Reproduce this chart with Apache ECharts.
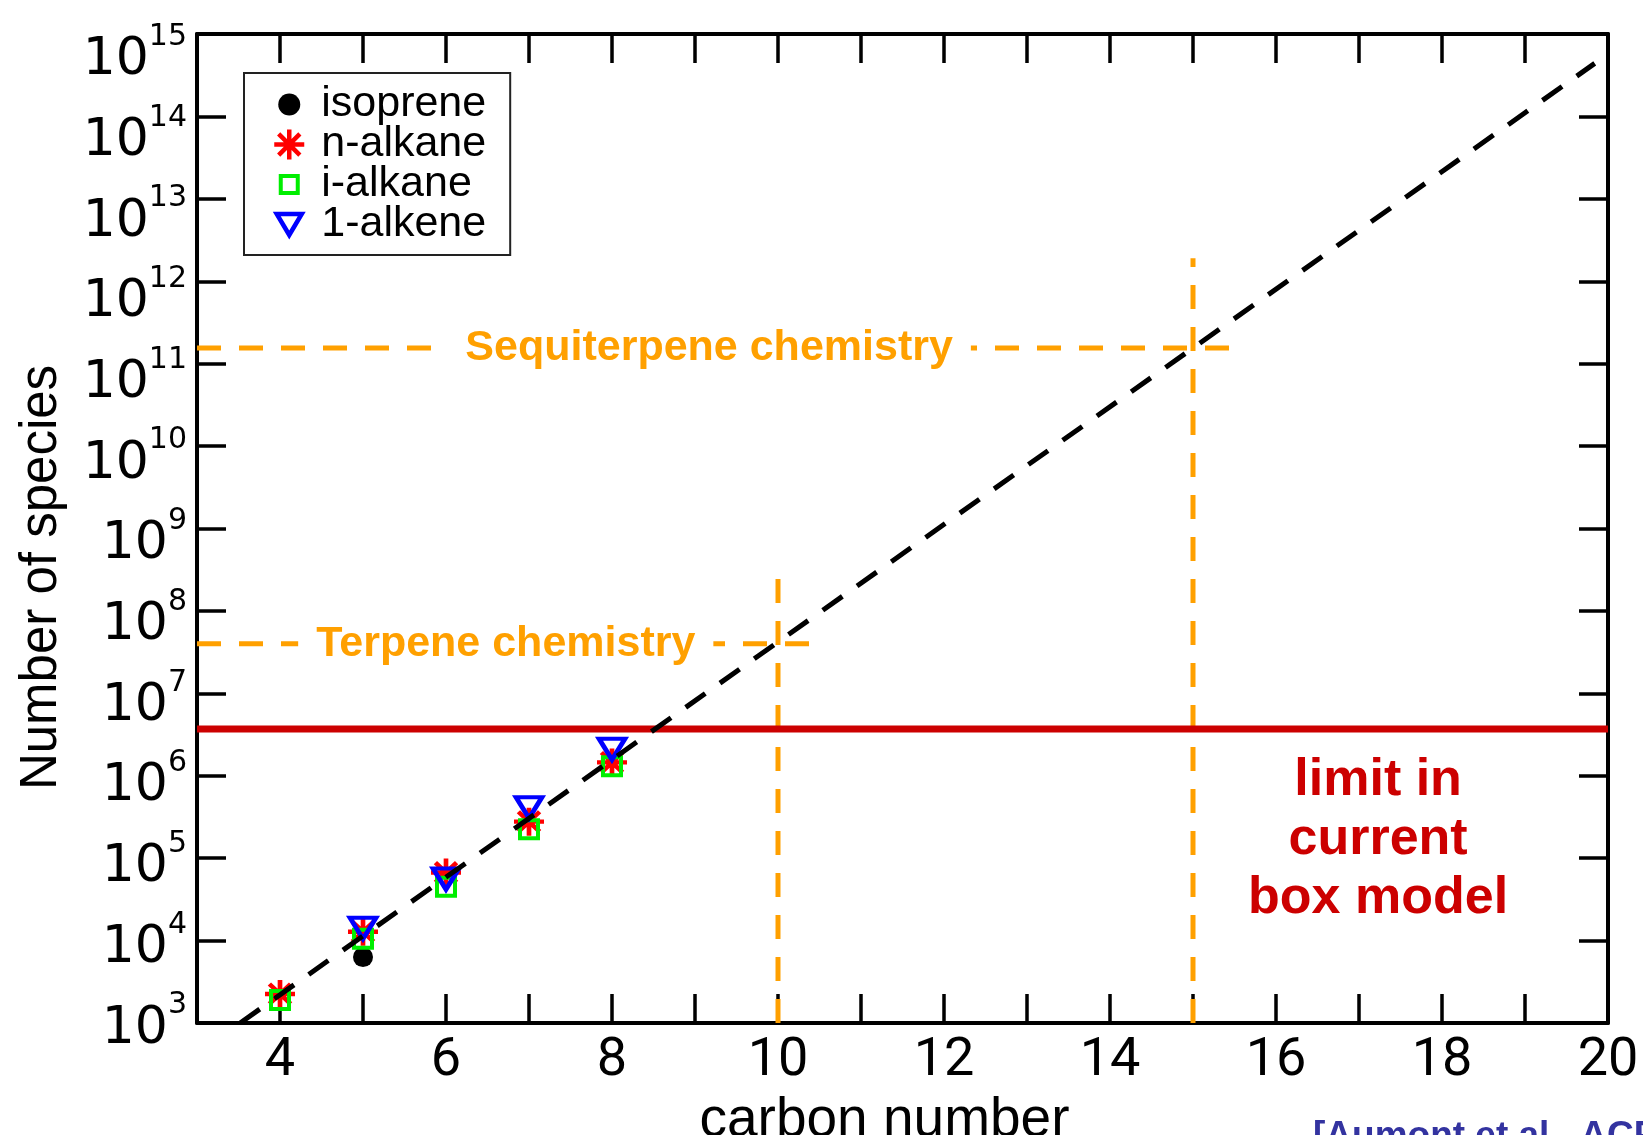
<!DOCTYPE html>
<html><head><meta charset="utf-8">
<script src="https://cdn.jsdelivr.net/npm/echarts@6/dist/echarts.min.js"></script>
<style>html,body{margin:0;padding:0;background:#fff}#c{width:1643px;height:1135px}</style>
</head><body><div id="c"></div>
<script>
// ---- data ----
const seriesNames = ['isoprene', 'n-alkane', 'i-alkane', '1-alkene'];
const isopreneX = [5];
const isopreneY = [6300];
const nAlkaneX = [4, 5, 6, 7, 8];
const nAlkaneY = [2250, 12800, 67000, 277000, 1450000];
const iAlkaneX = [4, 5, 6, 7, 8];
const iAlkaneY = [1900, 10500, 45000, 224000, 1300000];
const alkeneX = [5, 6, 7, 8];
const alkeneY = [14100, 56000, 410000, 2100000];
const fitX = [3.52, 19.84];
const fitY = [1.0e3, 4.4e14];
const boxLimitX = [3, 20];
const boxLimitY = [3.7e6, 3.7e6];
const terpeneHX = [3, 10.52];
const terpeneHY = [4.0e7, 4.0e7];
const terpeneVX = [10, 10];
const terpeneVY = [1.0e3, 2.5e8];
const sesquiHX = [3, 15.56];
const sesquiHY = [1.55e11, 1.55e11];
const sesquiVX = [15, 15];
const sesquiVY = [1.0e3, 1.9e12];
const annotationTexts = ['Terpene chemistry', 'Sequiterpene chemistry', 'limit in\ncurrent\nbox model'];
const annotationX = [6.72, 9.17, 17.23];
const annotationY = [4.0e7, 1.55e11, 1.69e5];
const xTickLabels = ['4', '6', '8', '10', '12', '14', '16', '18', '20'];
const yTickExponents = ['3', '4', '5', '6', '7', '8', '9', '10', '11', '12', '13', '14', '15'];
// in the reference the decade labels sit slightly closer together than the decade ticks
const yLabelSpread = 0.979;

const zip = (xs, ys) => xs.map((x, i) => [x, ys[i]]);

const ORANGE = '#ffa000';
const RED = '#cc0000';
const SANS = '"Liberation Sans", Arial, sans-serif';
const DEJAVU = '"DejaVu Sans", sans-serif';
const orangeDash = { color: ORANGE, width: 5, type: [24, 18], cap: 'butt' };

function lineSeries(name, xs, ys, style, z) {
  return { name, type: 'line', data: zip(xs, ys), symbol: 'none', silent: true,
           lineStyle: style, z, animation: false };
}

const expMin = Number(yTickExponents[0]);
const expMax = Number(yTickExponents[yTickExponents.length - 1]);
const labelAxisMax = expMin + (expMax - expMin) / yLabelSpread;

const starPath = 'path://M15,0L15,30M0,15L30,15M4.4,4.4L25.6,25.6M4.4,25.6L25.6,4.4';
const triPath = 'path://M0,0L26,0L13,21Z';
// legend icons drawn in a 54x36 frame (the two leading moves fix the frame size)
const lgCircle = 'path://M0,0M54,36M38,18A11,11,0,1,1,16,18A11,11,0,1,1,38,18Z';
const lgStar = 'path://M0,0M54,36M27,3L27,33M12,18L42,18M16.4,7.4L37.6,28.6M16.4,28.6L37.6,7.4';
const lgSquare = 'path://M0,0M54,36M18.5,9.5L35.5,9.5L35.5,26.5L18.5,26.5Z';
const lgTri = 'path://M0,0M54,36M14.5,7.5L39.5,7.5L27,28.5Z';

const axisLineStyle = { show: true, lineStyle: { color: '#000', width: 4 } };
const tickStyle = { show: true, inside: true, length: 29, lineStyle: { color: '#000', width: 3.5 } };

const chart = echarts.init(document.getElementById('c'), null, { renderer: 'canvas' });
chart.setOption({
  animation: false,
  backgroundColor: '#fff',
  grid: { left: 197, right: 35, top: 34, bottom: 112, outerBoundsMode: 'none', containLabel: false },
  xAxis: [
    { type: 'value', min: 3, max: 20, interval: 1, position: 'bottom',
      axisLine: axisLineStyle, axisTick: tickStyle, splitLine: { show: false },
      axisLabel: { show: true, margin: 11, color: '#000', showMinLabel: true, showMaxLabel: true,
        fontFamily: 'Roboto, sans-serif', fontSize: 54,
        formatter: v => { const s = String(Math.round(v)); return xTickLabels.includes(s) ? s : ''; } },
      name: 'carbon number', nameLocation: 'middle', nameGap: 62,
      nameTextStyle: { fontFamily: SANS, fontSize: 55, color: '#000', padding: [0, 36, 0, 0] } },
    { type: 'value', min: 3, max: 20, interval: 1, position: 'top',
      axisLine: axisLineStyle, axisTick: tickStyle, splitLine: { show: false }, axisLabel: { show: false } }
  ],
  yAxis: [
    { type: 'log', logBase: 10, min: 1e3, max: 1e15, interval: 1, position: 'left',
      axisLine: axisLineStyle, axisTick: tickStyle, splitLine: { show: false }, minorTick: { show: false },
      axisLabel: { show: false },
      name: 'Number of species', nameLocation: 'middle', nameGap: 130,
      nameTextStyle: { fontFamily: SANS, fontSize: 51, color: '#000', padding: [0, 98, 0, 0] } },
    { type: 'log', logBase: 10, min: 1e3, max: 1e15, interval: 1, position: 'right',
      axisLine: axisLineStyle, axisTick: tickStyle, splitLine: { show: false }, axisLabel: { show: false } },
    // decade labels 10^n (exponent scale)
    { type: 'value', min: expMin, max: labelAxisMax, interval: 1, position: 'left',
      axisLine: { show: false }, axisTick: { show: false }, splitLine: { show: false },
      axisLabel: { show: true, margin: 10, showMinLabel: true, showMaxLabel: false,
        formatter: v => {
          const e = String(Math.round(v));
          if (Math.abs(v - Math.round(v)) > 1e-6 || !yTickExponents.includes(e)) return '';
          return '{b|10}{s|' + e + '}';
        },
        rich: {
          b: { fontFamily: DEJAVU, fontSize: 52, lineHeight: 12, color: '#000', verticalAlign: 'middle', padding: [12, 0, 0, 0] },
          s: { fontFamily: DEJAVU, fontSize: 30, lineHeight: 10, color: '#000', verticalAlign: 'middle', padding: [0, 0, 35, 0] }
        } } }
  ],
  legend: {
    orient: 'vertical', left: 244, top: 73, padding: [10, 24, 9, 16], itemGap: -3,
    itemWidth: 54, itemHeight: 36, borderColor: '#222', borderWidth: 2, backgroundColor: '#fff',
    selectedMode: false,
    textStyle: { fontFamily: SANS, fontSize: 43, lineHeight: 40, color: '#000' },
    data: [
      { name: seriesNames[0], icon: lgCircle, itemStyle: { color: '#000', borderWidth: 0, opacity: 1 } },
      { name: seriesNames[1], icon: lgStar, itemStyle: { color: 'rgba(0,0,0,0)', borderColor: '#ff0000', borderWidth: 4.5, opacity: 1 } },
      { name: seriesNames[2], icon: lgSquare, itemStyle: { color: 'rgba(0,0,0,0)', borderColor: '#00ee00', borderWidth: 4, opacity: 1 } },
      { name: seriesNames[3], icon: lgTri, itemStyle: { color: 'rgba(0,0,0,0)', borderColor: '#0000ff', borderWidth: 4.5, opacity: 1 } }
    ]
  },
  series: [
    lineSeries('terpeneH', terpeneHX, terpeneHY, orangeDash, 2),
    lineSeries('terpeneV', terpeneVX, terpeneVY, orangeDash, 2),
    lineSeries('sesquiH', sesquiHX, sesquiHY, orangeDash, 2),
    lineSeries('sesquiV', sesquiVX, sesquiVY, orangeDash, 2),
    lineSeries('boxLimit', boxLimitX, boxLimitY, { color: RED, width: 7, type: 'solid' }, 3),
    { name: seriesNames[0], type: 'scatter', data: zip(isopreneX, isopreneY), symbol: 'circle', symbolSize: 20,
      itemStyle: { color: '#000', opacity: 1 }, z: 4 },
    { name: seriesNames[1], type: 'scatter', data: zip(nAlkaneX, nAlkaneY), symbol: starPath, symbolSize: [30, 28],
      itemStyle: { color: 'rgba(0,0,0,0)', borderColor: '#ff0000', borderWidth: 4.5, opacity: 1 }, z: 4 },
    { name: seriesNames[2], type: 'scatter', data: zip(iAlkaneX, iAlkaneY), symbol: 'rect', symbolSize: 18,
      itemStyle: { color: 'rgba(0,0,0,0)', borderColor: '#00ee00', borderWidth: 4, opacity: 1 }, z: 4 },
    { name: seriesNames[3], type: 'scatter', data: zip(alkeneX, alkeneY), symbol: triPath, symbolSize: [26, 21],
      itemStyle: { color: 'rgba(0,0,0,0)', borderColor: '#0000ff', borderWidth: 4.5, opacity: 1 }, z: 4 },
    lineSeries('fit', fitX, fitY, { color: '#000', width: 5, type: [24, 18], cap: 'butt' }, 6),
    { name: 'annotations', type: 'scatter', symbolSize: 1, itemStyle: { color: 'rgba(0,0,0,0)', opacity: 1 }, silent: true, z: 5,
      data: annotationX.map((x, i) => ({
        value: [x, annotationY[i]],
        label: i < 2
          ? { show: true, position: 'inside', formatter: annotationTexts[i], color: ORANGE, fontWeight: 'bold', opacity: 1,
              fontFamily: SANS, fontSize: 43, backgroundColor: '#fff', padding: [4, 18] }
          : { show: true, position: 'inside', formatter: annotationTexts[i], color: RED, fontWeight: 'bold', opacity: 1,
              fontFamily: SANS, fontSize: 52, lineHeight: 59, align: 'center' }
      })) }
  ],
  graphic: [
    { type: 'text', left: 1313, top: 1118, silent: true,
      style: { text: '[Aumont et al., ACP, 2005]', fill: '#3333a0', fontWeight: 'bold', fontSize: 37,
               fontFamily: SANS } }
  ]
});
</script></body></html>
